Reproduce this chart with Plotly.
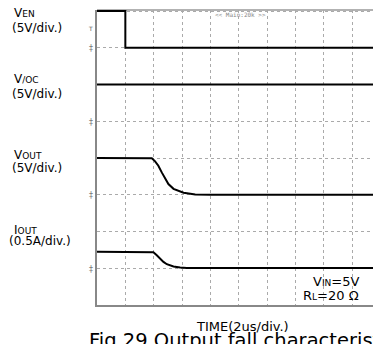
import plotly.graph_objects as go

# ---------------- data ----------------
# time in microseconds (2 us/div)
ven_t = [0.0, 2.0, 2.0, 19.5]
ven_v = [5.0, 5.0, 0.0, 0.0]

vioc_t = [0.0, 19.5]
vioc_v = [5.0, 5.0]

vout_t = [0.0, 3.87, 4.10, 4.33, 4.57, 4.81, 5.04, 5.40, 5.75, 6.11, 6.59, 6.93, 8.0, 19.5]
vout_v = [5.0, 4.96, 4.55, 3.96, 3.05, 2.14, 1.46, 0.81, 0.49, 0.27, 0.14, 0.04, 0.0, 0.0]

iout_t = [0.0, 3.87, 3.98, 4.22, 4.45, 4.69, 4.93, 5.16, 5.40, 5.87, 6.34, 8.0, 19.5]
iout_a = [0.225, 0.225, 0.218, 0.178, 0.133, 0.087, 0.055, 0.038, 0.024, 0.011, 0.004, 0.003, 0.003]

# channel settings: (ground position in divisions, units per division)
VEN_GND, VEN_SCALE = 7, 5.0
VIOC_GND, VIOC_SCALE = 5, 5.0
VOUT_GND, VOUT_SCALE = 3, 5.0
IOUT_GND, IOUT_SCALE = 1, 0.5

X_DIV = 2.0          # us per division
X_MAX = 19.48        # visible time span (screen cut at right)
Y_TOP = 8.03

# ---------------- figure ----------------
W, H = 373, 344
L, R, T, B = 97, 373, 10, 305


def px(xp):
    return (xp - L) / (R - L)


def py(yp):
    return (B - yp) / (B - T)


fig = go.Figure()


def add(t, v, gnd, scale):
    fig.add_trace(go.Scatter(
        x=t, y=[gnd + val / scale for val in v], mode="lines",
        line=dict(color="black", width=2), hoverinfo="skip", showlegend=False))


add(ven_t, ven_v, VEN_GND, VEN_SCALE)
add(vioc_t, vioc_v, VIOC_GND, VIOC_SCALE)
add(vout_t, vout_v, VOUT_GND, VOUT_SCALE)
add(iout_t, iout_a, IOUT_GND, IOUT_SCALE)

FONT = "DejaVu Sans"
MAIN = 12
SMALL = 9


def sc(big, small, rest=""):
    s = f"{big}<span style='font-size:{SMALL}px'>{small}</span>"
    if rest:
        s += rest
    return s


ann = []


def text(t, xp, yp, size=MAIN, xanchor="left", color="black", family=FONT):
    ann.append(dict(text=t, x=px(xp), y=py(yp), xref="paper", yref="paper",
                    xanchor=xanchor, yanchor="middle", showarrow=False,
                    font=dict(family=family, size=size, color=color)))


# channel labels
text(sc("V", "EN"), 12, 13)
text("(5V/div.)", 10, 28)
text(sc("V", "/OC"), 12, 79)
text("(5V/div.)", 10, 94)
text(sc("V", "OUT"), 12, 155)
text("(5V/div.)", 10, 168)
text(sc("I", "OUT"), 12, 230)
text("(0.5A/div.)", 7, 241)

# conditions
text(sc("V", "IN", "=5V"), 361, 281, xanchor="right", size=13)
text(sc("R", "L", "=20 Ω"), 361, 295, xanchor="right", size=13)

# axis title and caption
text("TIME(2us/div.)", 194, 326, size=13)
text("Fig.29 Output fall characteristics", 87, 340, size=19.5)

# scope decorations
text("&lt;&lt; Main:20k &gt;&gt;", 213, 15, size=6, color="#888", family="DejaVu Sans Mono")
for g in (VEN_GND, VIOC_GND, VOUT_GND, IOUT_GND):
    text("‡", 95, B - g * (B - T) / Y_TOP + 1, size=8, xanchor="right", color="#777")
text("T", 95, 28, size=6, xanchor="right", color="#555")

fig.update_layout(
    width=W, height=H,
    margin=dict(l=L, r=W - R, t=T, b=H - B, pad=0),
    paper_bgcolor="white", plot_bgcolor="white",
    annotations=ann,
    shapes=[dict(type="line", xref="paper", yref="paper", x0=0, x1=1, y0=1, y1=1,
                 line=dict(color="#999", width=1.5), layer="below")],
    xaxis=dict(range=[0, X_MAX], dtick=X_DIV, tick0=0, showticklabels=False, ticks="",
               showgrid=True, gridcolor="#aaa", griddash="dot", gridwidth=1,
               showline=True, linecolor="#888", linewidth=1.5, zeroline=False),
    yaxis=dict(range=[0, Y_TOP], dtick=1, tick0=0, showticklabels=False, ticks="",
               showgrid=True, gridcolor="#aaa", griddash="dot", gridwidth=1,
               showline=True, linecolor="#888", linewidth=1.5, zeroline=False),
)

fig.write_html("out.html",
               config={"displayModeBar": False},
               post_script="document.body.style.margin='0';document.body.style.overflow='hidden';")
